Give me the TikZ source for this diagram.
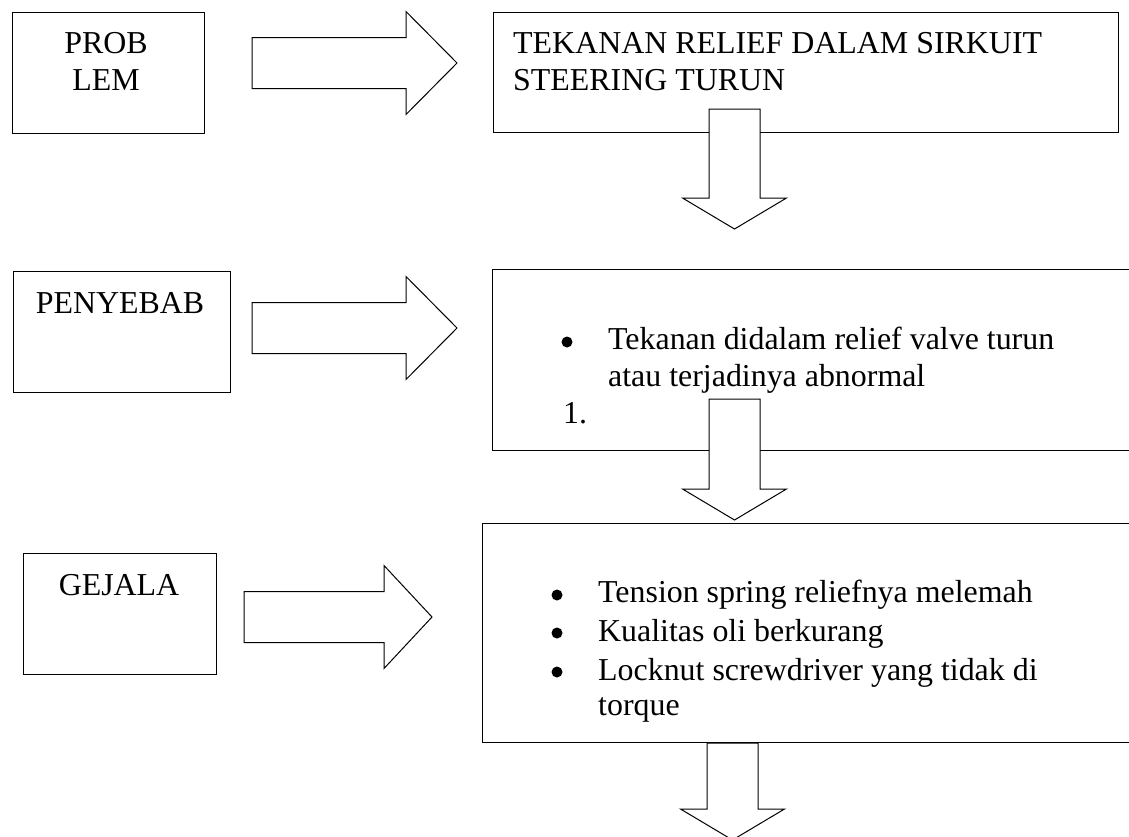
\documentclass[tikz,border=0pt]{standalone}
\usepackage{fontspec}
\setmainfont{Liberation Serif}
\tikzset{
  box/.style={draw, line width=1.2pt, anchor=north west, inner sep=0pt},
  blockarrow/.style={draw=black, fill=white, line width=1pt, line join=miter},
  txt/.style={anchor=base west, inner sep=0pt, font=\fontsize{31.9pt}{37pt}\selectfont},
  ctxt/.style={txt, anchor=base}
}
% block arrows: tail x, head base x, tip x, centre y
\newcommand{\hblockarrow}[4]{%
  \filldraw[blockarrow] (#1,#4-25.5) -- (#2,#4-25.5) -- (#2,#4-51.5) -- (#3,#4)
    -- (#2,#4+51.5) -- (#2,#4+25.5) -- (#1,#4+25.5) -- cycle;}
% centre x, top y, head base y, tip y
\newcommand{\vblockarrow}[4]{%
  \filldraw[blockarrow] (#1-25.5,#2) -- (#1+25.5,#2) -- (#1+25.5,#3) -- (#1+52,#3)
    -- (#1,#4) -- (#1-52,#3) -- (#1-25.5,#3) -- cycle;}
\begin{document}
\begin{tikzpicture}[x=1pt, y=-1pt]
  \useasboundingbox (0,0) rectangle (1129,836);

  % left column
  \node[box, minimum width=192pt, minimum height=121pt] (problem) at (12,12) {};
  \node[box, minimum width=217pt, minimum height=121pt] (penyebab) at (13,271) {};
  \node[box, minimum width=193pt, minimum height=121pt] (gejala) at (23,553) {};

  % right column
  \node[box, minimum width=625pt, minimum height=120pt] (tekanan) at (493,12) {};
  \node[box, minimum width=660pt, minimum height=181pt] (sebab) at (492,269) {};
  \node[box, minimum width=670pt, minimum height=219pt] (gejalalist) at (482,523) {};

  % arrows
  \hblockarrow{252}{406}{457}{63}
  \hblockarrow{252}{406}{457}{328}
  \hblockarrow{244}{384}{432}{617}
  \vblockarrow{734.5}{109}{198}{229}
  \vblockarrow{734.5}{399}{489}{520}
  \vblockarrow{732.5}{743}{809}{840}

  % texts
  \node[ctxt] (probA) at (106,53) {PROB};
  \node[ctxt] (probB) at (106,90) {LEM};
  \node[txt] (tekA) at (513,53) {TEKANAN RELIEF DALAM SIRKUIT};
  \node[txt] (tekB) at (513,90) {STEERING TURUN};

  \node[ctxt] (penyebabtxt) at (120,313) {PENYEBAB};
  \fill (567,342) circle (5.5);
  \node[txt] (sebabA) at (608,349) {Tekanan didalam relief valve turun};
  \node[txt] (sebabB) at (608,386) {atau terjadinya abnormal};
  \node[txt] (sebabnum) at (563,423) {1.};

  \node[ctxt] (gejalatxt) at (119,595) {GEJALA};
  \foreach \yb in {595,633,672} \fill (557,\yb) circle (5.5);
  \node[txt] (gejA) at (598,602) {Tension spring reliefnya melemah};
  \node[txt] (gejB) at (598,641) {Kualitas oli berkurang};
  \node[txt] (gejC) at (598,680) {Locknut screwdriver yang tidak di};
  \node[txt] (gejD) at (598,715) {torque};
\end{tikzpicture}
\end{document}
